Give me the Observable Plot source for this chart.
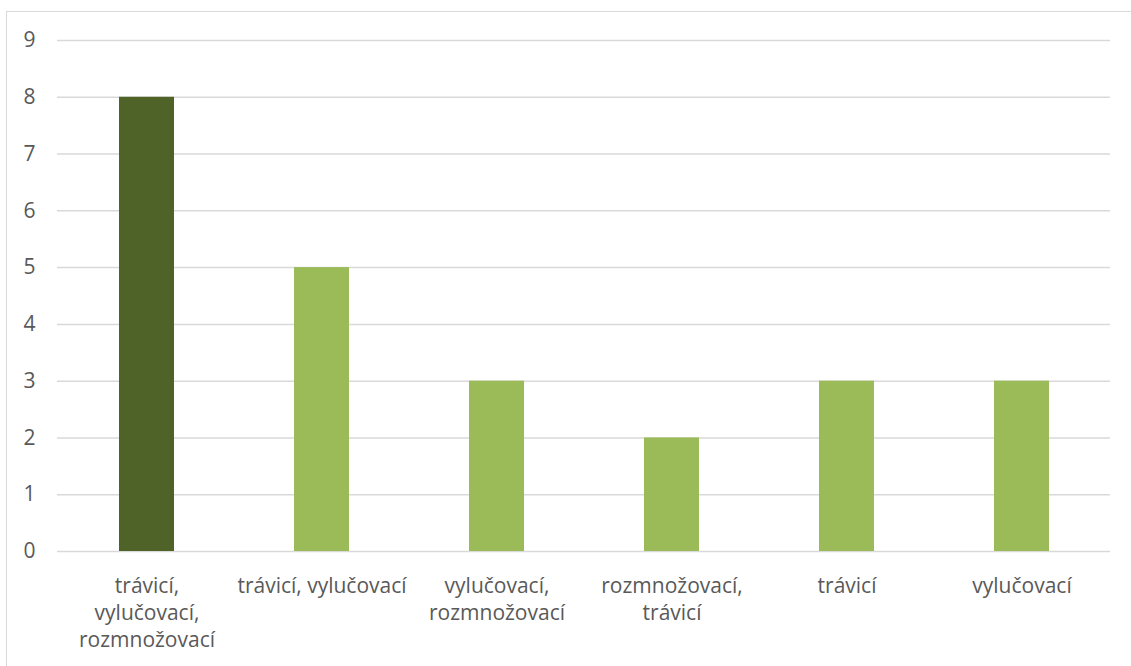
<!DOCTYPE html>
<html>
<head>
<meta charset="utf-8">
<script src="https://cdn.jsdelivr.net/npm/d3@7"></script>
<script src="https://cdn.jsdelivr.net/npm/@observablehq/plot@0.6"></script>
<style>
  body { margin: 0; background: #fff; }
  #wrap { position: relative; width: 1131px; height: 666px; overflow: hidden; }
  #border { position: absolute; left: 6px; top: 11px; width: 1140px; height: 680px; border: 1.5px solid #d9d9d9; box-sizing: border-box; }
  #chart { position: absolute; left: 0; top: 0; }
</style>
</head>
<body>
<div id="wrap"><div id="border"></div><div id="chart"></div></div>
<script>
const categories = ["trávicí, vylučovací, rozmnožovací", "trávicí, vylučovací", "vylučovací, rozmnožovací", "rozmnožovací, trávicí", "trávicí", "vylučovací"];
const tickLabels = ["trávicí,\nvylučovací,\nrozmnožovací", "trávicí, vylučovací", "vylučovací,\nrozmnožovací", "rozmnožovací,\ntrávicí", "trávicí", "vylučovací"];
const values = [8, 5, 3, 2, 3, 3];
const highlighted = [true, false, false, false, false, false];
const yTicks = [0, 1, 2, 3, 4, 5, 6, 7, 8, 9];

const data = categories.map((c, i) => ({category: c, value: values[i], hl: highlighted[i]}));
const labelOf = new Map(categories.map((c, i) => [c, tickLabels[i]]));

const chart = Plot.plot({
  width: 1131,
  height: 666,
  marginLeft: 57,
  marginRight: 21,
  marginTop: 40,
  marginBottom: 115,
  style: {fontFamily: "'Open Sans', sans-serif", fontSize: "21px", color: "#595959", background: "transparent"},
  x: {domain: categories, paddingInner: 0.687, paddingOuter: 0.3435, align: 0.5},
  y: {domain: [0, 9]},
  marks: [
    Plot.gridY(yTicks, {stroke: "#d9d9d9", strokeOpacity: 1, strokeWidth: 1.5}),
    Plot.barY(data, {x: "category", y: "value", fill: d => d.hl ? "#4F6228" : "#9BBB59"}),
    Plot.axisY(yTicks, {tickSize: 0, tickPadding: 18, textAnchor: "middle", dx: -10, tickFormat: d3.format("d"), fill: "#595959", fontSize: 21, label: null}),
    Plot.axisX({tickSize: 0, tickPadding: 22, tickFormat: d => labelOf.get(d), lineHeight: 1.3, fill: "#595959", fontSize: 21, label: null})
  ]
});
document.getElementById("chart").appendChild(chart);
</script>
</body>
</html>
